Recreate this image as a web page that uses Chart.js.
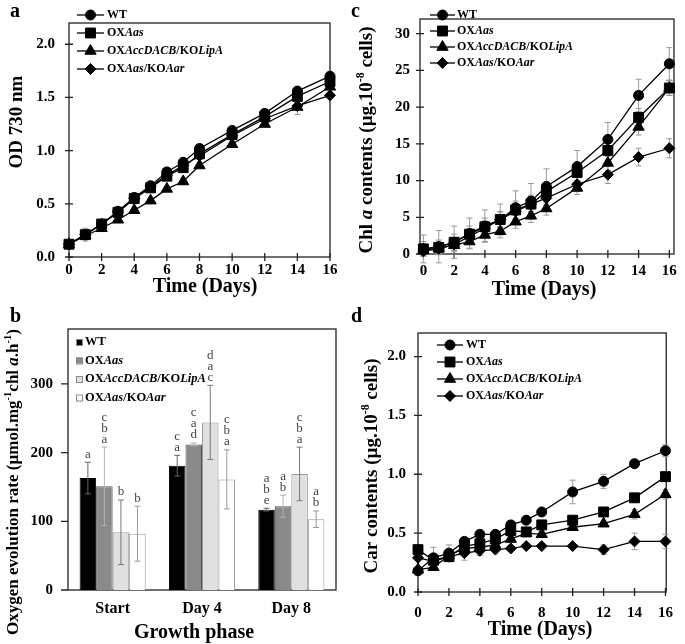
<!DOCTYPE html>
<html>
<head>
<meta charset="utf-8">
<title>Growth, pigments and oxygen evolution</title>
<script src="https://cdn.jsdelivr.net/npm/chart.js@4.4.1/dist/chart.umd.min.js"></script>
<style>
  html, body { margin: 0; padding: 0; background: #fff; }
  #fig { position: relative; width: 685px; height: 644px; overflow: hidden; }
  #fig canvas { position: absolute; }
  .tag { position: absolute; font: bold 20px "Liberation Serif", "Times New Roman", serif; line-height: 20px; }
</style>
</head>
<body>
<div id="fig">
  <canvas id="chartA" style="left:0;top:0" width="342" height="305"></canvas>
  <canvas id="chartC" style="left:342px;top:0" width="343" height="305"></canvas>
  <canvas id="chartB" style="left:0;top:305px" width="342" height="339"></canvas>
  <canvas id="chartD" style="left:342px;top:305px" width="343" height="339"></canvas>
  <div class="tag" style="left:10px;top:0">a</div>
  <div class="tag" style="left:351px;top:0">c</div>
  <div class="tag" style="left:10px;top:305px">b</div>
  <div class="tag" style="left:351px;top:305px">d</div>
</div>
<script>
const FONT = '"Liberation Serif", "Times New Roman", serif';

// ---- shared ----
const days = [0, 1, 2, 3, 4, 5, 6, 7, 8, 10, 12, 14, 16];
const dayTicks = [0, 2, 4, 6, 8, 10, 12, 14, 16];
const strains = ['WT', 'OXAas', 'OXAccDACB/KOLipA', 'OXAas/KOAar'];
// same names split in runs: '' = bold, 'i' = bold italic, 's' = superscript
const strainParts = [
  [['WT', '']],
  [['OX', ''], ['Aas', 'i']],
  [['OX', ''], ['AccDACB', 'i'], ['/KO', ''], ['LipA', 'i']],
  [['OX', ''], ['Aas', 'i'], ['/KO', ''], ['Aar', 'i']]
];
const markers = ['circle', 'rect', 'triangle', 'rectRot'];

// ---- a: OD 730 nm ----
const odWT   = [0.12, 0.21, 0.31, 0.43, 0.56, 0.67, 0.80, 0.89, 1.02, 1.19, 1.35, 1.56, 1.70];
const odAas  = [0.12, 0.21, 0.31, 0.42, 0.55, 0.65, 0.76, 0.84, 0.97, 1.15, 1.32, 1.51, 1.65];
const odLipA = [0.12, 0.20, 0.27, 0.35, 0.44, 0.53, 0.64, 0.71, 0.86, 1.06, 1.25, 1.41, 1.60];
const odAar  = [0.12, 0.21, 0.31, 0.42, 0.55, 0.66, 0.77, 0.86, 0.95, 1.14, 1.30, 1.42, 1.52];
const odErrWT   = [0.02, 0.06, 0.02, 0.02, 0.03, 0.02, 0.03, 0.02, 0.02, 0.02, 0.02, 0.02, 0.02];
const odErrAas  = [0.02, 0.02, 0.02, 0.02, 0.02, 0.02, 0.04, 0.04, 0.02, 0.02, 0.02, 0.02, 0.03];
const odErrLipA = [0.02, 0.02, 0.02, 0.02, 0.02, 0.02, 0.02, 0.03, 0.02, 0.02, 0.02, 0.07, 0.03];
const odErrAar  = [0.02, 0.02, 0.02, 0.02, 0.05, 0.02, 0.02, 0.02, 0.02, 0.02, 0.02, 0.03, 0.02];
const odTicks = [0, 0.5, 1.0, 1.5, 2.0];

// ---- c: Chl a ----
const chlWT   = [0.7, 1.0, 1.6, 2.8, 3.8, 4.7, 6.3, 7.2, 9.2, 11.9, 15.6, 21.6, 25.9];
const chlAas  = [0.7, 0.9, 1.6, 2.7, 3.7, 4.7, 6.0, 6.8, 8.5, 11.1, 14.1, 18.6, 22.6];
const chlLipA = [0.5, 0.8, 1.2, 1.7, 2.6, 3.1, 4.4, 5.2, 6.2, 9.0, 12.4, 17.3, 22.6];
const chlAar  = [0.4, 0.7, 1.3, 2.4, 3.5, 4.7, 5.8, 6.8, 7.6, 9.5, 10.8, 13.2, 14.4];
const chlErrWT   = [1.9, 2.2, 2.2, 2.1, 2.2, 2.1, 2.3, 2.4, 2.4, 2.2, 2.3, 2.2, 2.2];
const chlErrAas  = [1.0, 1.0, 1.1, 1.1, 1.2, 1.1, 1.2, 1.2, 1.2, 1.1, 1.3, 1.2, 1.0];
const chlErrLipA = [0.8, 0.8, 0.9, 0.9, 0.9, 0.9, 0.9, 0.9, 0.9, 0.9, 1.0, 1.1, 1.0];
const chlErrAar  = [0.6, 0.7, 0.8, 0.9, 1.0, 1.0, 1.0, 1.0, 1.0, 1.0, 1.2, 1.2, 1.3];
const chlTicks = [0, 5, 10, 15, 20, 25, 30];

// ---- b: oxygen evolution ----
const phases = ['Start', 'Day 4', 'Day 8'];
const oxWT   = [163, 181, 117];
const oxAas  = [151, 212, 122];
const oxLipA = [84, 244, 169];
const oxAar  = [82, 161, 103];
const oxErrWT   = [23, 15, 2];
const oxErrAas  = [57, 2, 16];
const oxErrLipA = [47, 54, 39];
const oxErrAar  = [40, 43, 12];
const oxLetWT   = [['a'], ['c', 'a'], ['a', 'b', 'e']];
const oxLetAas  = [['c', 'b', 'a'], ['c', 'a', 'd'], ['a', 'b']];
const oxLetLipA = [['b'], ['d', 'a', 'c'], ['c', 'b', 'a']];
const oxLetAar  = [['b'], ['c', 'b', 'a'], ['a', 'b']];
const oxTicks = [0, 100, 200, 300];

// ---- d: carotenoids ----
const carWT   = [0.18, 0.29, 0.33, 0.43, 0.49, 0.49, 0.57, 0.61, 0.68, 0.85, 0.94, 1.09, 1.20];
const carAas  = [0.36, 0.27, 0.30, 0.39, 0.41, 0.45, 0.52, 0.51, 0.57, 0.61, 0.68, 0.80, 0.98];
const carLipA = [0.19, 0.21, 0.31, 0.37, 0.38, 0.40, 0.45, 0.50, 0.49, 0.55, 0.58, 0.66, 0.83];
const carAar  = [0.29, 0.26, 0.30, 0.33, 0.35, 0.36, 0.37, 0.39, 0.39, 0.39, 0.36, 0.43, 0.43];
const carErrWT   = [0.02, 0.09, 0.07, 0.03, 0.02, 0.02, 0.03, 0.02, 0.02, 0.10, 0.06, 0.02, 0.05];
const carErrAas  = [0.02, 0.04, 0.03, 0.03, 0.03, 0.02, 0.03, 0.02, 0.02, 0.02, 0.02, 0.02, 0.03];
const carErrLipA = [0.02, 0.02, 0.02, 0.03, 0.03, 0.02, 0.03, 0.02, 0.02, 0.02, 0.02, 0.04, 0.04];
const carErrAar  = [0.02, 0.02, 0.02, 0.06, 0.04, 0.02, 0.02, 0.02, 0.02, 0.02, 0.04, 0.07, 0.06];
const carTicks = [0, 0.5, 1.0, 1.5, 2.0];

Chart.defaults.font.family = FONT;
Chart.defaults.color = '#000';
Chart.defaults.animation = false;

function setFont(ctx, size, italic, bold) {
  ctx.font = (italic ? 'italic ' : '') + (bold === false ? '' : 'bold ') + size + 'px ' + FONT;
}

// text made of runs, centred (or left aligned) on x,y, optionally rotated
function drawRich(ctx, parts, x, y, size, opt) {
  opt = opt || {};
  ctx.save();
  ctx.translate(x, y);
  if (opt.rotate) ctx.rotate(-Math.PI / 2);
  ctx.textBaseline = 'middle';
  ctx.textAlign = 'left';
  ctx.fillStyle = '#000';
  const runs = parts.map(([t, f]) => {
    const s = f.includes('s') ? size * 0.62 : size;
    setFont(ctx, s, f.includes('i'));
    return { t, f, s, w: ctx.measureText(t).width };
  });
  const total = runs.reduce((a, r) => a + r.w, 0);
  let cx = opt.align === 'left' ? 0 : -total / 2;
  runs.forEach(r => {
    setFont(ctx, r.s, r.f.includes('i'));
    ctx.fillText(r.t, cx, r.f.includes('s') ? -size * 0.32 : 0);
    cx += r.w;
  });
  ctx.restore();
}

function marker(ctx, style, r, x, y) {
  ctx.fillStyle = '#000';
  ctx.strokeStyle = '#000';
  ctx.lineWidth = 1;
  Chart.helpers.drawPoint(ctx, { pointStyle: style, radius: r, borderWidth: 1, rotation: 0 }, x, y);
}

function drawErrors(chart, cap, color) {
  const ctx = chart.ctx, y = chart.scales.y;
  chart.data.datasets.forEach((ds, di) => {
    const meta = chart.getDatasetMeta(di);
    ctx.save();
    ctx.strokeStyle = ds.errorColor || color;
    ctx.lineWidth = 1;
    meta.data.forEach((el, i) => {
      const raw = ds.data[i];
      const v = typeof raw === 'object' ? raw.y : raw;
      const t = y.getPixelForValue(v + ds.errors[i]);
      const b = y.getPixelForValue(v - ds.errors[i]);
      ctx.beginPath();
      ctx.moveTo(el.x, t); ctx.lineTo(el.x, b);
      ctx.moveTo(el.x - cap, t); ctx.lineTo(el.x + cap, t);
      ctx.moveTo(el.x - cap, b); ctx.lineTo(el.x + cap, b);
      ctx.stroke();
    });
    ctx.restore();
  });
}

// frame, crossing ticks, error bars, legend and titles for one panel
function decor(cfg) {
  return {
    id: 'decor',
    beforeDatasetsDraw(chart) {
      const { ctx, chartArea: a, scales } = chart;
      ctx.save();
      ctx.strokeStyle = '#222';
      ctx.lineWidth = 1.3;
      ctx.strokeRect(a.left, a.top, a.right - a.left, a.bottom - a.top);
      ctx.beginPath();
      if (cfg.xTicks) {
        scales.x.ticks.forEach(t => {
          const px = scales.x.getPixelForValue(t.value);
          ctx.moveTo(px, a.bottom - cfg.tickIn); ctx.lineTo(px, a.bottom + cfg.tickOut);
        });
      }
      scales.y.ticks.forEach(t => {
        const py = scales.y.getPixelForValue(t.value);
        ctx.moveTo(a.left - cfg.tickOut, py); ctx.lineTo(a.left + cfg.tickIn, py);
      });
      ctx.stroke();
      ctx.restore();
      if (!cfg.bars) drawErrors(chart, 3, '#9a9a9a');
    },
    afterDatasetsDraw(chart) {
      const ctx = chart.ctx;
      if (cfg.bars) {
        drawErrors(chart, 3, '#777');
        const y = chart.scales.y;
        ctx.save();
        setFont(ctx, 13, false, false);
        ctx.fillStyle = '#444';
        ctx.textAlign = 'center';
        ctx.textBaseline = 'middle';
        chart.data.datasets.forEach((ds, di) => {
          chart.getDatasetMeta(di).data.forEach((el, i) => {
            const top = y.getPixelForValue(ds.data[i] + ds.errors[i]);
            const lets = ds.letters[i];
            lets.forEach((l, k) => ctx.fillText(l, el.x, top - 8 - (lets.length - 1 - k) * 11));
          });
        });
        ctx.restore();
      }
      // legend
      const L = cfg.legend;
      strainParts.forEach((parts, i) => {
        const yy = L.y + i * L.step;
        ctx.save();
        if (cfg.bars) {
          ctx.fillStyle = cfg.swatches[i];
          ctx.strokeStyle = '#888';
          ctx.lineWidth = 1;
          ctx.fillRect(L.x, yy - 3, 6, 6);
          ctx.strokeRect(L.x + 0.5, yy - 2.5, 6, 6);
        } else {
          ctx.strokeStyle = '#000';
          ctx.lineWidth = 1.3;
          ctx.beginPath();
          ctx.moveTo(L.x, yy); ctx.lineTo(L.x + L.len, yy);
          ctx.stroke();
          marker(ctx, markers[i], cfg.radii[i], L.x + L.len / 2, yy);
        }
        ctx.restore();
        drawRich(ctx, parts, L.textX, yy, L.size || 12, { align: 'left' });
      });
    },
    afterDraw(chart) {
      cfg.titles.forEach(t => drawRich(chart.ctx, t.parts, t.x, t.y, t.size, { rotate: t.rotate }));
    }
  };
}

const radii = [5, 7, 6.5, 5.5];

function lineSet(i, values, errors) {
  return {
    label: strains[i],
    data: days.map((d, k) => ({ x: d, y: values[k] })),
    errors,
    borderColor: '#000',
    backgroundColor: '#000',
    borderWidth: 1.3,
    pointStyle: markers[i],
    pointRadius: radii[i],
    pointBorderWidth: 1,
    tension: 0,
    clip: false
  };
}

function lineChart(id, p) {
  return new Chart(document.getElementById(id), {
    type: 'line',
    data: { datasets: p.sets },
    options: {
      responsive: false,
      layout: { autoPadding: false, padding: p.pad },
      plugins: { legend: { display: false }, tooltip: { enabled: false } },
      scales: {
        x: {
          type: 'linear', min: p.xMin, max: p.xMax,
          afterBuildTicks: s => { s.ticks = dayTicks.map(v => ({ value: v })); },
          afterFit: s => { s.height = p.xH; },
          grid: { display: false, drawTicks: false },
          border: { display: false },
          ticks: { font: { size: 15, weight: 'bold' }, padding: p.xPad, maxRotation: 0, autoSkip: false }
        },
        y: {
          type: 'linear', min: p.yMin, max: p.yMax,
          afterBuildTicks: s => { s.ticks = p.yTicks.map(v => ({ value: v })); },
          afterFit: s => { s.width = p.yW; },
          grid: { display: false, drawTicks: false },
          border: { display: false },
          ticks: { font: { size: 15, weight: 'bold' }, padding: p.yPad, callback: p.fmt }
        }
      }
    },
    plugins: [decor(p.decor)]
  });
}

const oneDec = v => v.toFixed(1);

// a
lineChart('chartA', {
  sets: [lineSet(0, odWT, odErrWT), lineSet(1, odAas, odErrAas), lineSet(2, odLipA, odErrLipA), lineSet(3, odAar, odErrAar)],
  pad: { left: 0, top: 3, right: 12, bottom: 0 },
  xMin: 0, xMax: 16, xH: 48, xPad: 4,
  yMin: 0, yMax: 2.2, yW: 69, yPad: 14, yTicks: odTicks, fmt: oneDec,
  decor: {
    xTicks: true, tickIn: 4, tickOut: 4, radii,
    legend: { x: 77, len: 27, textX: 107, y: 15, step: 18 },
    titles: [
      { parts: [['Time (Days)', '']], x: 205, y: 287, size: 20 },
      { parts: [['OD 730 nm', '']], x: 17, y: 122, size: 19, rotate: true }
    ]
  }
});

// c
lineChart('chartC', {
  sets: [lineSet(0, chlWT, chlErrWT), lineSet(1, chlAas, chlErrAas), lineSet(2, chlLipA, chlErrLipA), lineSet(3, chlAar, chlErrAar)],
  pad: { left: 0, top: 3, right: 8, bottom: 0 },
  xMin: -0.22, xMax: 16.3, xH: 51, xPad: 8,
  yMin: 0, yMax: 32, yW: 78, yPad: 10, yTicks: chlTicks, fmt: v => String(v),
  decor: {
    xTicks: true, tickIn: 4, tickOut: 4, radii,
    legend: { x: 88, len: 25, textX: 115, y: 15, step: 16 },
    titles: [
      { parts: [['Time (Days)', '']], x: 202, y: 290, size: 20 },
      { parts: [['Chl ', ''], ['a', 'i'], [' contents (µg.10', ''], ['-8', 's'], [' cells)', '']], x: 25, y: 140, size: 19, rotate: true }
    ]
  }
});

// d
lineChart('chartD', {
  sets: [lineSet(0, carWT, carErrWT), lineSet(1, carAas, carErrAas), lineSet(2, carLipA, carErrLipA), lineSet(3, carAar, carErrAar)],
  pad: { left: 0, top: 28, right: 12, bottom: 0 },
  xMin: 0, xMax: 16.05, xH: 52, xPad: 12,
  yMin: 0, yMax: 2.2, yW: 76, yPad: 12, yTicks: carTicks, fmt: oneDec,
  decor: {
    xTicks: true, tickIn: 4, tickOut: 4, radii,
    legend: { x: 95, len: 26, textX: 124, y: 40, step: 17 },
    titles: [
      { parts: [['Time (Days)', '']], x: 198, y: 325, size: 20 },
      { parts: [['Car contents (µg.10', ''], ['-8', 's'], [' cells)', '']], x: 30, y: 161, size: 19, rotate: true }
    ]
  }
});

// b
const barFills = ['#000000', '#8a8a8a', '#e0e0e0', '#ffffff'];
const barEdges = ['#000000', '#555555', '#999999', '#999999'];
const errColors = ['#666666', '#b5b5b5', '#777777', '#999999'];
const oxSeries = [oxWT, oxAas, oxLipA, oxAar];
const oxErrors = [oxErrWT, oxErrAas, oxErrLipA, oxErrAar];
const oxLetters = [oxLetWT, oxLetAas, oxLetLipA, oxLetAar];

new Chart(document.getElementById('chartB'), {
  type: 'bar',
  data: {
    labels: phases,
    datasets: oxSeries.map((vals, i) => ({
      label: strains[i],
      data: vals,
      errors: oxErrors[i],
      letters: oxLetters[i],
      errorColor: errColors[i],
      backgroundColor: barFills[i],
      borderColor: barEdges[i],
      borderWidth: 1,
      categoryPercentage: 0.74,
      barPercentage: 1
    }))
  },
  options: {
    responsive: false,
    layout: { autoPadding: false, padding: { left: 0, top: 23, right: 6, bottom: 0 } },
    plugins: { legend: { display: false }, tooltip: { enabled: false } },
    scales: {
      x: {
        afterFit: s => { s.height = 54; },
        grid: { display: false, drawTicks: false },
        border: { display: false },
        ticks: { font: { size: 16, weight: 'bold' }, padding: 9 }
      },
      y: {
        min: 0, max: 380,
        afterBuildTicks: s => { s.ticks = oxTicks.map(v => ({ value: v })); },
        afterFit: s => { s.width = 68; },
        grid: { display: false, drawTicks: false },
        border: { display: false },
        ticks: { font: { size: 15, weight: 'bold' }, padding: 15 }
      }
    }
  },
  plugins: [decor({
    bars: true, xTicks: false, tickIn: 0, tickOut: 7, swatches: barFills,
    legend: { x: 76, textX: 85, y: 37, step: 18.5, size: 12.5 },
    titles: [
      { parts: [['Growth phase', '']], x: 194, y: 328, size: 20 },
      { parts: [['Oxygen evolution rate (µmol.mg', ''], ['-1', 's'], ['chl ', ''], ['a', 'i'], ['.h', ''], ['-1', 's'], [')', '']], x: 14, y: 177, size: 17, rotate: true }
    ]
  })]
});
</script>
</body>
</html>
